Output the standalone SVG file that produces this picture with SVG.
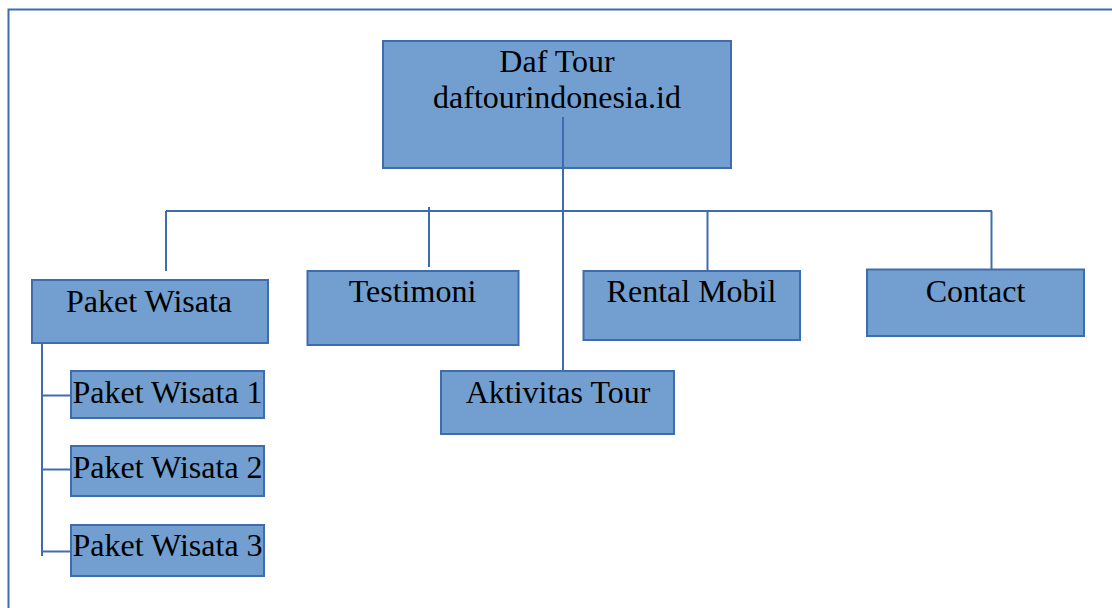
<svg xmlns="http://www.w3.org/2000/svg" width="1112" height="608" viewBox="0 0 1112 608">
<style>
.box{fill:#729FCF;stroke:#3F6CAE;stroke-width:2}
.t{font-family:"Liberation Serif","Times New Roman",serif;font-size:32px;fill:#000}
.c{text-anchor:middle}
.ln{stroke:#3F6CAE;stroke-width:2;fill:none}
</style>
<rect x="8.5" y="9.5" width="1120" height="620" fill="#fff" stroke="#3F6CAE" stroke-width="2"/>
<g id="connectors">
<path class="ln" d="M563 117V373"/>
<path class="ln" d="M166 211H992"/>
<path class="ln" d="M166 211V271"/>
<path class="ln" d="M429 207V267"/>
<path class="ln" d="M707.5 211V271"/>
<path class="ln" d="M991.5 211V269"/>
<path class="ln" d="M42 343V556"/>
<path class="ln" d="M42 395.5H71"/>
<path class="ln" d="M42 469.5H71"/>
<path class="ln" d="M42 551.5H71"/>
</g>
<g id="root">
<rect class="box" x="383" y="41" width="348" height="127"/>
<text class="t c" x="557" y="72">Daf Tour</text>
<text class="t c" x="557" y="108">daftourindonesia.id</text>
</g>
<path class="ln" d="M563 117V168"/>
<g id="paket-wisata">
<rect class="box" x="32" y="280" width="236" height="63"/>
<text class="t c" x="149" y="312">Paket Wisata</text>
</g>
<g id="paket-wisata-1">
<rect class="box" x="71" y="371" width="193" height="47"/>
<text class="t" x="72.5" y="403">Paket Wisata 1</text>
</g>
<g id="paket-wisata-2">
<rect class="box" x="71" y="446" width="193" height="50"/>
<text class="t" x="72.5" y="477.5">Paket Wisata 2</text>
</g>
<g id="paket-wisata-3">
<rect class="box" x="71" y="525" width="193" height="51"/>
<text class="t" x="72.5" y="556">Paket Wisata 3</text>
</g>
<g id="testimoni">
<rect class="box" x="307.5" y="271" width="211" height="74"/>
<text class="t c" x="412.5" y="302">Testimoni</text>
</g>
<g id="aktivitas-tour">
<rect class="box" x="441" y="371" width="233" height="63"/>
<text class="t c" x="558" y="402.5">Aktivitas Tour</text>
</g>
<g id="rental-mobil">
<rect class="box" x="583.5" y="271" width="216.5" height="69"/>
<text class="t c" x="691.5" y="302">Rental Mobil</text>
</g>
<g id="contact">
<rect class="box" x="867" y="269.5" width="217" height="66.5"/>
<text class="t c" x="975.5" y="301.5">Contact</text>
</g>
</svg>
